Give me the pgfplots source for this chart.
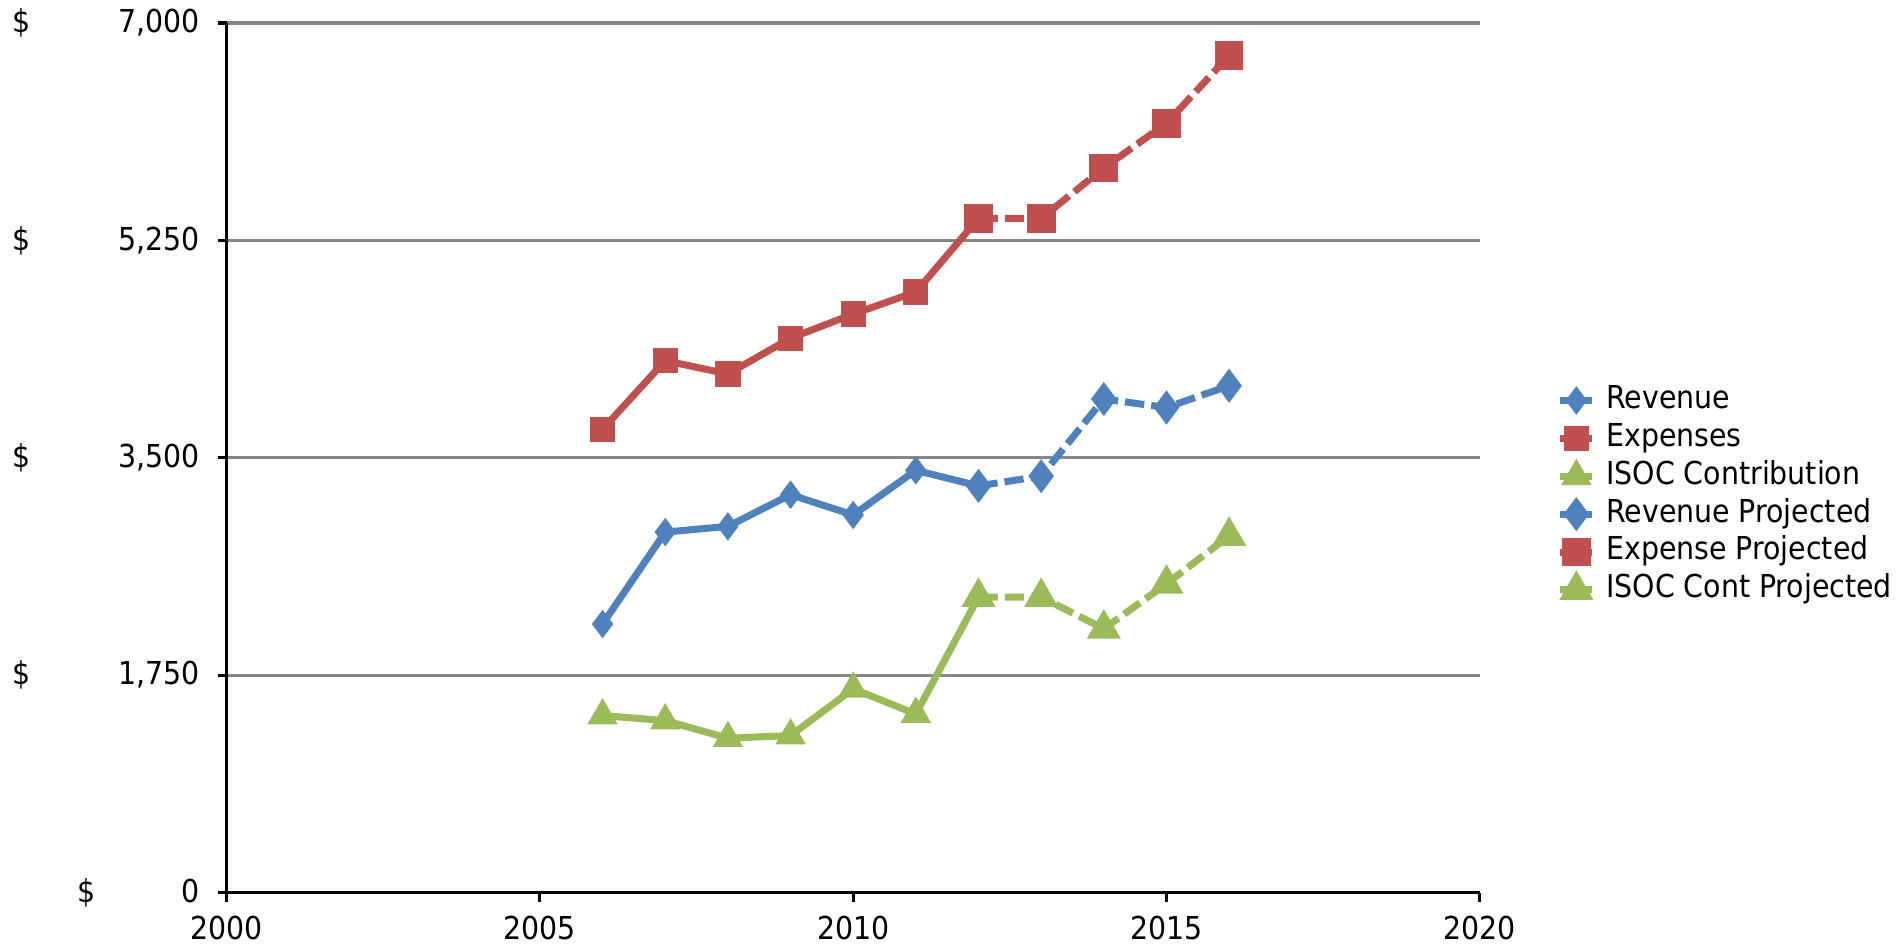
\documentclass[border=0pt]{standalone}
\usepackage{fontspec}
\setmainfont{DejaVu Sans Condensed}
\usepackage{pgfplots}
\pgfplotsset{compat=1.18}
\usetikzlibrary{calc}

\definecolor{revblue}{HTML}{4F81BD}
\definecolor{expred}{HTML}{C0504D}
\definecolor{isocgreen}{HTML}{9BBB59}
\definecolor{gridgray}{HTML}{868686}

\begin{document}
\fontsize{9pt}{10.5pt}\selectfont
\begin{tikzpicture}
  \begin{axis}[
    scale only axis, width=12.55cm, height=8.71cm,
    xmin=2000, xmax=2020, ymin=0, ymax=7000,
    xtick={2000,2005,2010,2015,2020},
    xticklabels={2000,2005,2010,2015,2020},
    ytick={0,1750,3500,5250,7000},
    yticklabels={
      {\makebox[1.88cm][r]{\makebox[1.23cm]{\$\hfill 0}}},
      {\makebox[1.88cm]{\$\hfill 1,750}},
      {\makebox[1.88cm]{\$\hfill 3,500}},
      {\makebox[1.88cm]{\$\hfill 5,250}},
      {\makebox[1.88cm]{\$\hfill 7,000}}},
    axis x line=bottom, axis y line=left,
    axis line style={-, line width=0.9pt, black},
    tick align=outside, major tick length=0.09cm,
    tick style={line width=0.9pt, black},
    ymajorgrids, major grid style={line width=0.9pt, gridgray},
    yticklabel style={anchor=east, inner sep=0pt, xshift=-0.17cm},
    xticklabel style={yshift=-0.035cm},
    clip=false,
    every axis plot/.append style={line width=2pt},
    legend cell align=left,
    legend style={draw=none, fill=none, at={(1.061,0.457)}, anchor=west,
      inner sep=0pt, row sep=1.1pt, column sep=1pt,
      nodes={text height=6.5pt, text depth=2pt, inner ysep=0.6pt},
      font=\fontsize{9pt}{10.5pt}\selectfont},
    legend image code/.code={
      \draw[#1, solid, mark repeat=2, mark phase=2]
        plot coordinates {(0cm,0cm) (0.16cm,0cm) (0.32cm,0cm)};}
  ]
  \coordinate (o) at (rel axis cs:0,0);
  % actuals
  \addplot[revblue, mark=diamond*, mark size=2.4pt] coordinates {
    (2006,2162) (2007,2902) (2008,2948) (2009,3203) (2010,3040) (2011,3399) (2012,3274)
  }; \addlegendentry{Revenue}
  \addplot[expred, mark=square*, mark size=2.6pt] coordinates {
    (2006,3730) (2007,4282) (2008,4175) (2009,4463) (2010,4657) (2011,4835) (2012,5427)
  }; \addlegendentry{Expenses}
  \addplot[isocgreen, mark=triangle*, mark size=3pt] coordinates {
    (2006,1425) (2007,1385) (2008,1243) (2009,1264) (2010,1640) (2011,1438) (2012,2379)
  }; \addlegendentry{ISOC Contribution}
  % projections
  \addplot[revblue, mark=diamond*, mark size=3.2pt, dash pattern=on 5.5pt off 2pt,
    mark options={solid}] coordinates {
    (2012,3274) (2013,3352) (2014,3973) (2015,3905) (2016,4080)
  }; \addlegendentry{Revenue Projected}
  \addplot[expred, mark=square*, mark size=3.1pt, dash pattern=on 5.5pt off 2pt,
    mark options={solid}] coordinates {
    (2012,5427) (2013,5427) (2014,5833) (2015,6193) (2016,6738)
  }; \addlegendentry{Expense Projected}
  \addplot[isocgreen, mark=triangle*, mark size=3.6pt, dash pattern=on 5.5pt off 2pt,
    mark options={solid}] coordinates {
    (2012,2379) (2013,2379) (2014,2124) (2015,2486) (2016,2871)
  }; \addlegendentry{ISOC Cont Projected}
  \end{axis}
  \path ($(o)+(-2.27cm,-0.57cm)$) rectangle ($(o)+(16.72cm,8.94cm)$);
\end{tikzpicture}
\end{document}
